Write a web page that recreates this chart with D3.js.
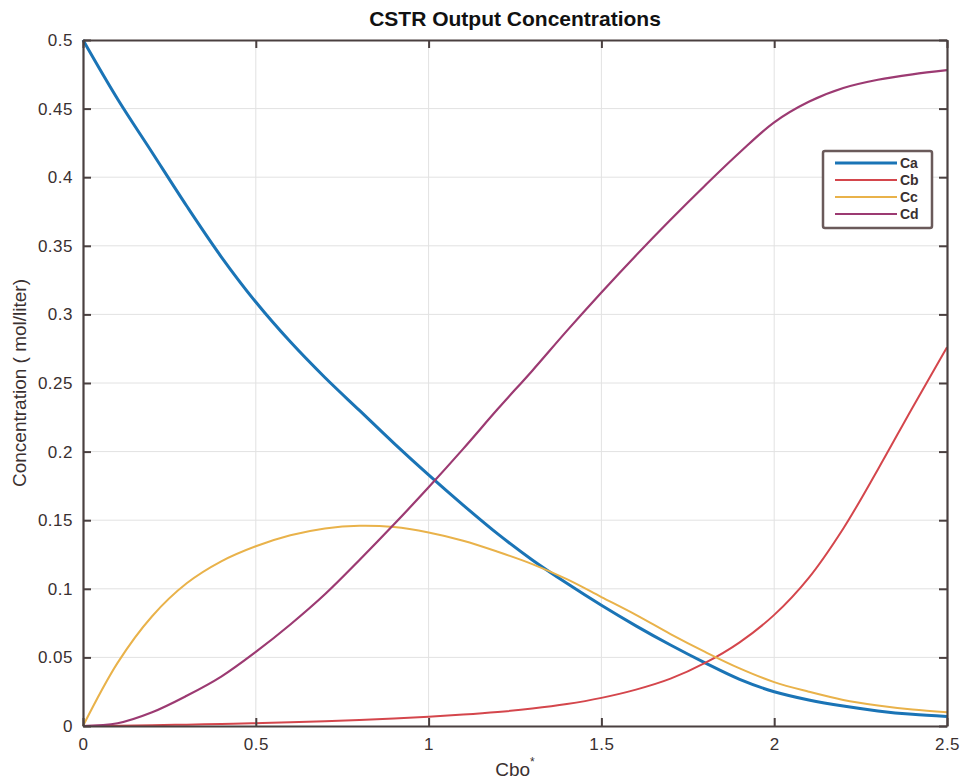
<!DOCTYPE html>
<html>
<head>
<meta charset="utf-8">
<script src="https://cdn.jsdelivr.net/npm/d3@7"></script>
<style>
  html, body { margin: 0; padding: 0; background: #fff; }
  svg { display: block; }
  text { font-family: "Liberation Sans", Arial, sans-serif; }
</style>
</head>
<body>
<svg id="chart" width="961" height="781"></svg>
<script>
// ---- data ----
const cbo = [0.0,0.1,0.2,0.3,0.4,0.5,0.6,0.7,0.8,0.9,1.0,1.1,1.2,1.3,1.4,1.5,1.6,1.7,1.8,1.9,2.0,2.1,2.2,2.3,2.4,2.5];
const ca  = [0.500,0.457,0.418,0.379,0.342,0.309,0.280,0.254,0.230,0.206,0.183,0.161,0.140,0.121,0.104,0.088,0.073,0.059,0.046,0.034,0.025,0.019,0.0145,0.011,0.0085,0.007];
const cb  = [0.000,0.0002,0.0005,0.001,0.0015,0.002,0.0027,0.0035,0.0044,0.0055,0.0068,0.0083,0.0102,0.0127,0.016,0.0205,0.0265,0.0345,0.046,0.061,0.081,0.108,0.144,0.187,0.232,0.276];
const cc  = [0.000,0.046,0.080,0.104,0.120,0.131,0.139,0.144,0.146,0.145,0.141,0.135,0.127,0.118,0.107,0.094,0.081,0.067,0.054,0.042,0.032,0.025,0.019,0.015,0.012,0.010];
const cd  = [0.000,0.002,0.010,0.022,0.036,0.054,0.074,0.096,0.121,0.147,0.174,0.202,0.231,0.259,0.288,0.316,0.343,0.369,0.394,0.418,0.440,0.455,0.465,0.471,0.475,0.478];
const seriesNames = ["Ca","Cb","Cc","Cd"];
const xTicks = [0,0.5,1,1.5,2,2.5];
const yTicks = [0,0.05,0.1,0.15,0.2,0.25,0.3,0.35,0.4,0.45,0.5];
const xTickLabels = ["0","0.5","1","1.5","2","2.5"];
const yTickLabels = ["0","0.05","0.1","0.15","0.2","0.25","0.3","0.35","0.4","0.45","0.5"];

const colors = ["#1a74b6","#d4464c","#e9b24a","#9c3a72"];
const widths = [3, 2, 2, 2.2];

const svg = d3.select("#chart");
const L = 83, R = 947, T = 40, B = 726;
const x = d3.scaleLinear().domain([0, 2.5]).range([L, R]);
const y = d3.scaleLinear().domain([0, 0.5]).range([B, T]);
const axisColor = "#4a4040";

// grid
const g = svg.append("g");
g.selectAll("line.vg").data(xTicks.slice(1, -1)).enter().append("line")
  .attr("x1", d => x(d)).attr("x2", d => x(d)).attr("y1", T).attr("y2", B)
  .attr("stroke", "#e2e2e2").attr("stroke-width", 1);
g.selectAll("line.hg").data(yTicks.slice(1, -1)).enter().append("line")
  .attr("x1", L).attr("x2", R).attr("y1", d => y(d)).attr("y2", d => y(d))
  .attr("stroke", "#e2e2e2").attr("stroke-width", 1);

// series
const allSeries = [ca, cb, cc, cd];
const line = d3.line().x(d => x(d[0])).y(d => y(d[1])).curve(d3.curveCatmullRom.alpha(0.5));
allSeries.forEach((vals, i) => {
  svg.append("path")
    .datum(cbo.map((c, k) => [c, vals[k]]))
    .attr("d", line)
    .attr("fill", "none")
    .attr("stroke", colors[i])
    .attr("stroke-width", widths[i])
    .attr("stroke-linejoin", "round");
});

// axes (ticks inside, box)
const axB = d3.axisBottom(x).tickValues(xTicks).tickFormat((d, i) => xTickLabels[i]).tickSizeInner(-8).tickSizeOuter(0).tickPadding(12);
const axL = d3.axisLeft(y).tickValues(yTicks).tickFormat((d, i) => yTickLabels[i]).tickSizeInner(-8).tickSizeOuter(0).tickPadding(10);
const axT = d3.axisTop(x).tickValues(xTicks).tickFormat("").tickSizeInner(-8).tickSizeOuter(0);
const axR = d3.axisRight(y).tickValues(yTicks).tickFormat("").tickSizeInner(-8).tickSizeOuter(0);

function styleAxis(sel) {
  sel.selectAll("path").attr("stroke", axisColor).attr("stroke-width", 2.2);
  sel.selectAll("line").attr("stroke", axisColor).attr("stroke-width", 2);
  sel.selectAll("text").attr("fill", "#3a3030").style("font-size", "17px")
     .style("letter-spacing", "0.5px")
     .style("font-family", "'Liberation Sans', Arial, sans-serif");
}
svg.append("g").attr("transform", `translate(0,${B})`).call(axB).call(styleAxis);
svg.append("g").attr("transform", `translate(${L},0)`).call(axL).call(styleAxis);
svg.append("g").attr("transform", `translate(0,${T})`).call(axT).call(styleAxis);
svg.append("g").attr("transform", `translate(${R},0)`).call(axR).call(styleAxis);

// title & labels
svg.append("text").attr("x", (L + R) / 2).attr("y", 26).attr("text-anchor", "middle")
  .attr("fill", "#111").style("font-size", "21px").style("font-weight", "bold")
  .text("CSTR Output Concentrations");
svg.append("text").attr("transform", `translate(26,${(T + B) / 2}) rotate(-90)`)
  .attr("text-anchor", "middle").attr("fill", "#3a3030").style("font-size", "19px")
  .text("Concentration ( mol/liter)");
const xl = svg.append("text").attr("x", (L + R) / 2).attr("y", 776).attr("text-anchor", "middle")
  .attr("fill", "#3a3030").style("font-size", "19px");
xl.append("tspan").text("Cbo");
xl.append("tspan").attr("dy", -10).style("font-size", "12px").text("*");

// legend
const lg = svg.append("g");
lg.append("rect").attr("x", 823).attr("y", 151).attr("width", 109).attr("height", 77)
  .attr("fill", "#fff").attr("stroke", "#6a5a5a").attr("stroke-width", 2.5).attr("rx", 2);
const rowY = [163, 180, 197, 214];
seriesNames.forEach((name, i) => {
  lg.append("line").attr("x1", 835).attr("x2", 897).attr("y1", rowY[i]).attr("y2", rowY[i])
    .attr("stroke", colors[i]).attr("stroke-width", i === 0 ? 3 : 2.2);
  lg.append("text").attr("x", 900).attr("y", rowY[i] + 5).attr("fill", "#3a3030")
    .style("font-size", "14px").style("font-weight", "bold").text(name);
});
</script>
</body>
</html>
